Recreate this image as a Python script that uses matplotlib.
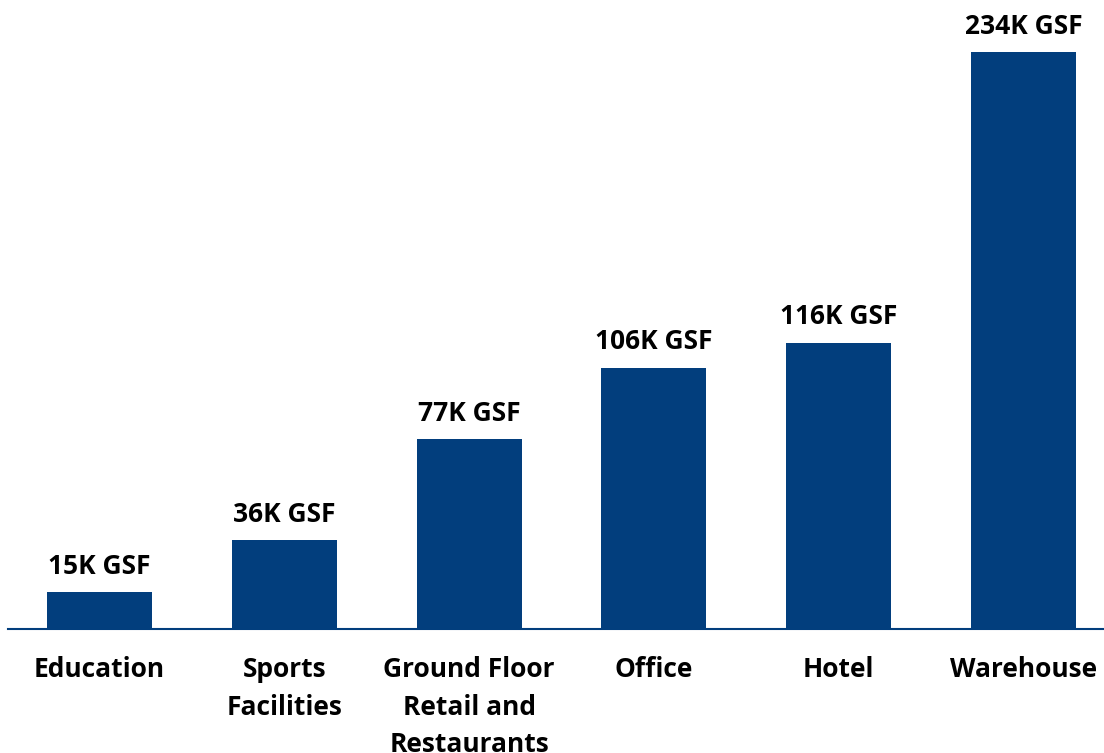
import matplotlib
matplotlib.use("Agg")
import matplotlib.pyplot as plt

categories = ["Education", "Sports\nFacilities", "Ground Floor\nRetail and\nRestaurants", "Office", "Hotel", "Warehouse"]
values = [15, 36, 77, 106, 116, 234]
labels = ["15K GSF", "36K GSF", "77K GSF", "106K GSF", "116K GSF", "234K GSF"]

color = "#023E7D"
plt.rcParams['font.family'] = ['Open Sans', 'DejaVu Sans']

fig = plt.figure(figsize=(11.04, 7.53), dpi=100)
ax = fig.add_axes([8/1104, 124/753, 1096/1104, 629/753])
x = list(range(len(categories)))
bars = ax.bar(x, values, width=0.568, color=color)
for xi, v, lab in zip(x, values, labels):
    ax.annotate(lab, (xi, v), xytext=(0, 9), textcoords="offset points",
                ha="center", va="bottom", fontsize=19, fontweight="bold", color="black")
ax.set_xlim(-0.495, 5.436)
ax.set_ylim(0, 255.1)
ax.set_xticks(x)
ax.set_xticklabels(categories, fontsize=19, fontweight="bold", linespacing=1.5, va="top")
ax.tick_params(axis="x", length=0, pad=19.5)
ax.set_yticks([])
for s in ["top", "right", "left"]:
    ax.spines[s].set_visible(False)
ax.spines["bottom"].set_color(color)
ax.spines["bottom"].set_linewidth(1.5)
fig.savefig("out.png", dpi=100)
